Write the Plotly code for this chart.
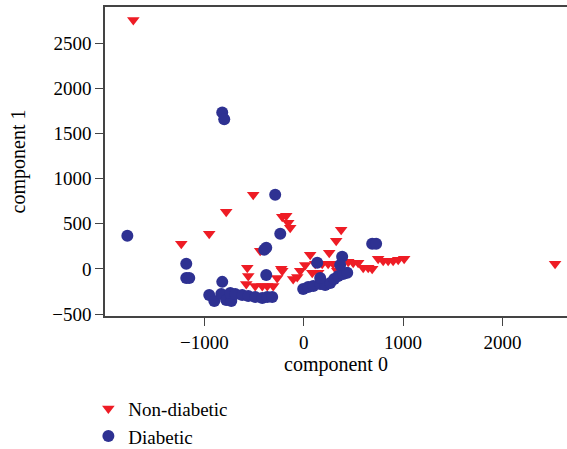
import plotly.graph_objects as go

# Non-diabetic (red triangles)
nd_x = [-1715, -1232, -951, -780, -508, -216, -176, -156, -136, -438,
        -568, -558, -578, -488, -417, -367, -307, -267, -226, -106,
        -65, -35, 15, 65, 86, 146, 116, 186, 246, 297,
        337, 257, 327, 377, -216, 448, 498, 548, 599, 649,
        689, 749, 800, 850, 900, 951, 1011, 2530]
nd_y = [2755, 278, 389, 633, 822, 578, 589, 511, 456, 200,
        11, -78, -167, -189, -189, -189, -189, -100, 0, -111,
        -89, -22, 44, 156, -44, -44, 56, 56, 56, 56,
        -22, 178, 311, 433, -22, 78, 67, 67, 11, 11,
        0, 111, 89, 89, 89, 100, 111, 56]

# Diabetic (blue circles)
d_x = [-1775, -1182, -1182, -1152, -820, -800, -287, -236, -397, -377,
       -377, -820, -951, -900, -830, -780, -729, -739, -689, -619,
       -558, -488, -417, -367, -317, -5, 45, 96, 166, 216,
       267, 307, 347, 397, 438, 166, 136, 387, 367, 689, 729]
d_y = [367, 56, -100, -100, 1733, 1656, 822, 389, 211, 233,
       -67, -144, -289, -356, -278, -344, -356, -267, -278, -289,
       -300, -311, -322, -311, -311, -222, -200, -189, -167, -178,
       -156, -111, -78, -56, -44, -100, 67, 133, 44, 278, 278]

x_ticks = [-1000, 0, 1000, 2000]
x_ticktext = ["\u22121000", "0", "1000", "2000"]
y_ticks = [-500, 0, 500, 1000, 1500, 2000, 2500]
y_ticktext = ["\u2212500", "0", "500", "1000", "1500", "2000", "2500"]

red = "#EE1C25"
blue = "#2E3192"
font_family = "Liberation Serif"

fig = go.Figure()
fig.add_trace(go.Scatter(x=nd_x, y=nd_y, mode="markers", name="Non-diabetic",
                         marker=dict(symbol="triangle-down", size=11, color=red)))
fig.add_trace(go.Scatter(x=d_x, y=d_y, mode="markers", name="Diabetic",
                         marker=dict(symbol="circle", size=12, color=blue)))

fig.update_layout(
    width=567, height=449,
    margin=dict(l=105, r=0, t=7, b=133, autoexpand=False),
    plot_bgcolor="white", paper_bgcolor="white",
    font=dict(family=font_family, size=19, color="black"),
    legend=dict(x=-0.036, y=-0.238, xanchor="left", yanchor="top",
                font=dict(size=19), bgcolor="rgba(0,0,0,0)"),
    xaxis=dict(range=[-2000, 2650], automargin=False,
               tickvals=x_ticks, ticktext=x_ticktext,
               showgrid=False, zeroline=False, showline=True, linecolor="#444",
               linewidth=1.5, mirror=True, ticks="outside", ticklen=8, tickcolor="#444",
               title=dict(text="component 0", font=dict(size=20), standoff=4)),
    yaxis=dict(range=[-522, 2900], automargin=False,
               tickvals=y_ticks, ticktext=y_ticktext,
               showgrid=False, zeroline=False, showline=True, linecolor="#444",
               linewidth=1.5, mirror=False, ticks="outside", ticklen=8, tickcolor="#444",
               title=dict(text="component 1", font=dict(size=20), standoff=21)),
)

fig.write_html("out.html")
